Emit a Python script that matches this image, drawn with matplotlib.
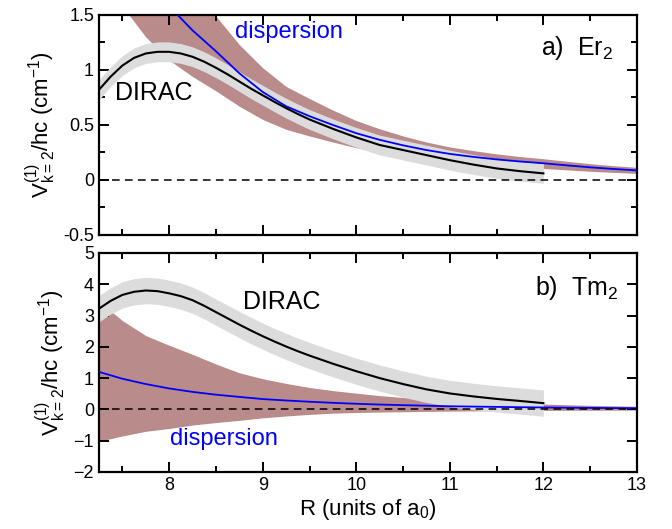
import numpy as np
import matplotlib.pyplot as plt
from matplotlib.ticker import MultipleLocator

plt.rcParams['font.family'] = ['Liberation Sans', 'DejaVu Sans']
plt.rcParams['mathtext.default'] = 'regular'

# R grids (units of a0)
R_dirac = [7.25, 7.375, 7.5, 7.625, 7.75, 7.875, 8.0, 8.125, 8.25, 8.375, 8.5,
           8.625, 8.75, 8.875, 9.0, 9.125, 9.25, 9.375, 9.5, 9.75,
           10.0, 10.25, 10.5, 10.75, 11.0, 11.25, 11.5, 11.75, 12.0]
R_disp = [7.25, 7.5, 7.75, 8.0, 8.25, 8.5, 8.75, 9.0, 9.25, 9.5, 9.75,
          10.0, 10.25, 10.5, 10.75, 11.0, 11.25, 11.5, 11.75, 12.0,
          12.25, 12.5, 12.75, 13.0]

# a) Er2
er_dirac = [0.82, 0.94, 1.04, 1.11, 1.15, 1.165, 1.165, 1.15, 1.12, 1.075, 1.02,
            0.96, 0.895, 0.83, 0.77, 0.71, 0.653, 0.60, 0.55, 0.465,
            0.387, 0.318, 0.272, 0.226, 0.18, 0.14, 0.105, 0.08, 0.06]
er_dirac_err = 0.09
er_disp = [2.70, 2.22, 1.84, 1.58, 1.36, 1.17, 0.97, 0.80, 0.67, 0.58, 0.50,
           0.425, 0.365, 0.315, 0.272, 0.237, 0.21, 0.187, 0.168, 0.152,
           0.133, 0.115, 0.10, 0.087]
er_disp_hi = [3.43, 2.82, 2.34, 2.01, 1.73, 1.49, 1.23, 1.02, 0.85, 0.74, 0.635,
              0.54, 0.465, 0.40, 0.345, 0.30, 0.267, 0.237, 0.213, 0.193,
              0.17, 0.148, 0.13, 0.115]
er_disp_lo = [1.86, 1.58, 1.30, 1.09, 0.94, 0.81, 0.67, 0.55, 0.46, 0.40, 0.345,
              0.293, 0.252, 0.217, 0.188, 0.164, 0.145, 0.129, 0.116, 0.105,
              0.092, 0.079, 0.069, 0.060]

# b) Tm2
tm_dirac = [3.22, 3.47, 3.66, 3.76, 3.80, 3.78, 3.71, 3.62, 3.49, 3.31, 3.11,
            2.91, 2.71, 2.52, 2.34, 2.17, 2.01, 1.86, 1.72, 1.46,
            1.22, 1.0, 0.81, 0.64, 0.51, 0.415, 0.335, 0.27, 0.20]
tm_dirac_err = 0.42
tm_disp = [1.20, 0.98, 0.81, 0.67, 0.56, 0.47, 0.40, 0.33, 0.285, 0.245, 0.21,
           0.18, 0.155, 0.135, 0.118, 0.10, 0.09, 0.08, 0.07, 0.062,
           0.054, 0.048, 0.042, 0.037]
tm_disp_hi = [3.45, 2.84, 2.36, 2.05, 1.76, 1.45, 1.17, 0.98, 0.83, 0.70, 0.60,
              0.52, 0.44, 0.38, 0.33, 0.28, 0.25, 0.22, 0.19, 0.17,
              0.15, 0.13, 0.115, 0.10]
tm_disp_lo = [-1.02, -0.85, -0.70, -0.61, -0.50, -0.42, -0.35, -0.27, -0.21, -0.16, -0.12,
              -0.10, -0.085, -0.075, -0.065, -0.055, -0.048, -0.042, -0.037, -0.033,
              -0.03, -0.027, -0.025, -0.023]

brown = '#b98b8a'
grey = '#dcdcdc'

fig = plt.figure(figsize=(6.72, 5.29), dpi=100)
ax1 = fig.add_axes([0.1473, 0.5558, 0.8006, 0.4159])
ax2 = fig.add_axes([0.1473, 0.1078, 0.8006, 0.4140])

def panel(ax, disp, lo, hi, dirac, err):
    d = np.array(dirac)
    ax.fill_between(R_disp, lo, hi, color=brown, lw=0, zorder=1)
    ax.fill_between(R_dirac, d - err, d + err, color=grey, lw=0, zorder=2)
    ax.plot(R_disp, disp, color='#0000ff', lw=1.3, zorder=3)
    ax.plot(R_dirac, dirac, color='black', lw=1.5, zorder=4)
    ax.axhline(0, color='black', lw=1.1, ls=(0, (5, 3.5)), zorder=5)
    ax.set_xlim(7.25, 13)
    ax.xaxis.set_major_locator(MultipleLocator(1))
    ax.xaxis.set_minor_locator(MultipleLocator(0.5))
    ax.tick_params(which='both', direction='in', top=True, right=True,
                   labelsize=13, width=1.4)
    ax.tick_params(which='major', length=7)
    ax.tick_params(which='minor', length=4)
    for s in ax.spines.values():
        s.set_linewidth(1.6)
    ax.set_ylabel('$V^{(1)}_{k=2}$/hc (cm$^{-1}$)', fontsize=16, labelpad=4)

panel(ax1, er_disp, er_disp_lo, er_disp_hi, er_dirac, er_dirac_err)
ax1.set_ylim(-0.5, 1.5)
ax1.yaxis.set_minor_locator(MultipleLocator(0.25))
ax1.set_yticks([-0.5, 0, 0.5, 1, 1.5])
ax1.set_yticklabels(['-0.5', '0', '0.5', '1', '1.5'])
ax1.tick_params(labelbottom=False)
ax1.text(7.42, 0.79, 'DIRAC', fontsize=18, va='center', ha='left')
ax1.text(8.70, 1.345, 'dispersion', fontsize=17, color='#0000ff', va='center', ha='left')
ax1.text(12.75, 1.2, 'a)  Er$_2$', fontsize=18, va='center', ha='right')

panel(ax2, tm_disp, tm_disp_lo, tm_disp_hi, tm_dirac, tm_dirac_err)
ax2.set_ylim(-2, 5)
ax2.yaxis.set_major_locator(MultipleLocator(1))
ax2.text(8.79, 3.44, 'DIRAC', fontsize=18, va='center', ha='left')
ax2.text(8.01, -0.94, 'dispersion', fontsize=17, color='#0000ff', va='center', ha='left')
ax2.text(12.8, 3.88, 'b)  Tm$_2$', fontsize=18, va='center', ha='right')
ax2.set_xlabel('R (units of a$_0$)', fontsize=16, labelpad=2)

fig.savefig('out.png', dpi=100)
